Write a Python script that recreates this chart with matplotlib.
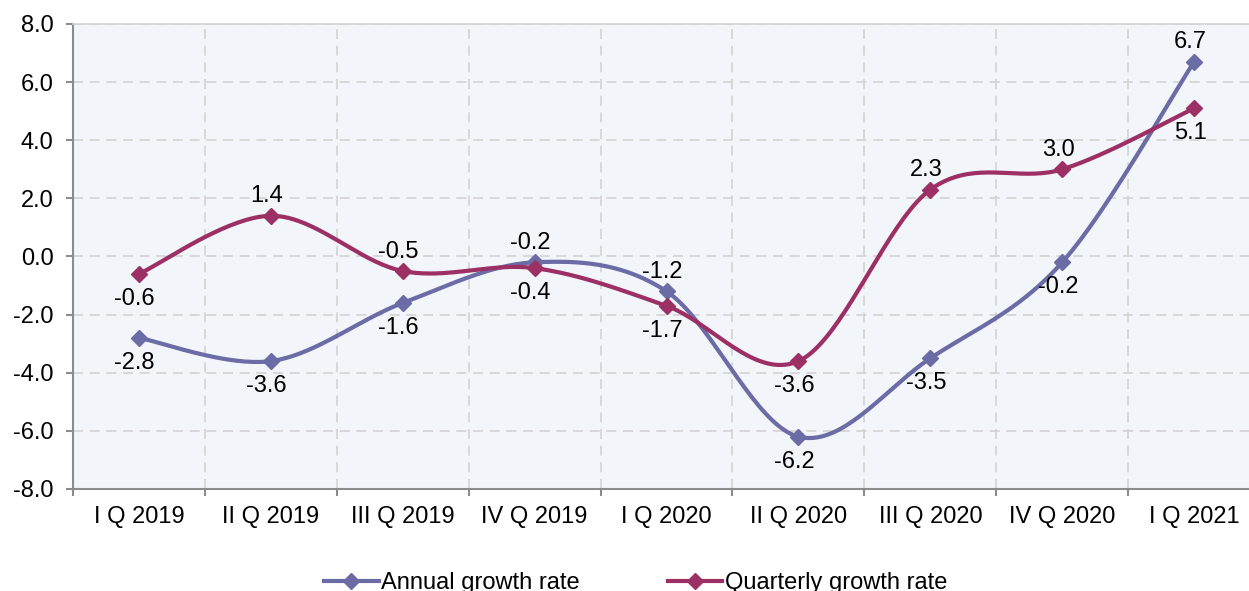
import numpy as np
import matplotlib.pyplot as plt
from matplotlib import font_manager
from matplotlib.font_manager import FontProperties
from matplotlib.lines import Line2D

# categorias e valores
quarters = ['I Q 2019', 'II Q 2019', 'III Q 2019', 'IV Q 2019', 'I Q 2020',
            'II Q 2020', 'III Q 2020', 'IV Q 2020', 'I Q 2021']
annual = [-2.8, -3.6, -1.6, -0.2, -1.2, -6.2, -3.5, -0.2, 6.7]
quarterly = [-0.6, 1.4, -0.5, -0.4, -1.7, -3.6, 2.3, 3.0, 5.1]

# posicao dos rotulos: 1 acima, -1 abaixo
annual_pos = [-1, -1, -1, 1, 1, -1, -1, -1, 1]
quarterly_pos = [-1, 1, 1, -1, -1, -1, 1, 1, -1]

c_annual = '#6B6BA5'
c_quarterly = '#9C2F64'

# procurando os arquivos das fontes
regular = None
narrow = None
for f in font_manager.fontManager.ttflist:
    base = f.fname.split('/')[-1].lower()
    if 'liberation' not in base or 'bold' in base or 'italic' in base:
        continue
    if 'narrow' in base:
        narrow = f.fname
    elif base.startswith('liberationsans-regular'):
        regular = f.fname


def fp(size, path):
    if path:
        return FontProperties(fname=path, size=size)
    return FontProperties(family='Liberation Sans', size=size)


def smooth(x, y, n=40):
    # curva suave estilo Excel (bezier com pontos de controle catmull-rom)
    x = np.asarray(x, float)
    y = np.asarray(y, float)
    px = np.concatenate([[x[0]], x, [x[-1]]])
    py = np.concatenate([[y[0]], y, [y[-1]]])
    xs, ys = [], []
    t = np.linspace(0, 1, n)
    for i in range(1, len(px) - 2):
        p0 = np.array([px[i], py[i]])
        p3 = np.array([px[i + 1], py[i + 1]])
        p1 = p0 + (np.array([px[i + 1], py[i + 1]]) - np.array([px[i - 1], py[i - 1]])) / 6
        p2 = p3 - (np.array([px[i + 2], py[i + 2]]) - np.array([px[i], py[i]])) / 6
        b = ((1 - t) ** 3)[:, None] * p0 + (3 * (1 - t) ** 2 * t)[:, None] * p1 \
            + (3 * (1 - t) * t ** 2)[:, None] * p2 + (t ** 3)[:, None] * p3
        xs.extend(b[:, 0])
        ys.extend(b[:, 1])
    return xs, ys


fig = plt.figure(figsize=(12.49, 5.91), dpi=100)
ax = fig.add_axes([0.0584, 0.1726, 0.9505, 0.7868])
ax.set_facecolor('#F2F5FA')

x = np.arange(len(quarters))
for vals, col, pos in [(annual, c_annual, annual_pos), (quarterly, c_quarterly, quarterly_pos)]:
    sx, sy = smooth(x, vals)
    ax.plot(sx, sy, color=col, lw=3, solid_capstyle='round', zorder=3)
    ax.plot(x, vals, ls='none', marker='D', ms=8, color=col, zorder=4)
    for xi, v, p in zip(x, vals, pos):
        dy = 14 if p > 0 else -18
        ax.annotate(f'{v:.1f}', (xi, v), xytext=(-3, dy), textcoords='offset points',
                    ha='center', va='center', fontproperties=fp(17, regular),
                    color='black', zorder=5)

ax.set_xlim(-0.5, len(quarters) - 0.5)
ax.set_ylim(-8, 8)
yt = np.arange(-8, 8.1, 2)
ax.set_yticks(yt)
ax.set_yticklabels([f'{v:.1f}' for v in yt], fontproperties=fp(17, regular))
ax.set_xticks(x)
ax.set_xticklabels(quarters, fontproperties=fp(17, regular))
ax.set_xticks(np.arange(-0.5, len(quarters), 1), minor=True)
ax.tick_params(axis='x', which='major', length=0, pad=12)
ax.tick_params(axis='x', which='minor', length=5, color='#8C8C8C', width=1.5)
ax.tick_params(axis='y', length=5, color='#8C8C8C', width=1.5, pad=9)

ax.grid(True, axis='y', which='major', ls=(0, (6, 4)), color='#D3D3D3', lw=1.2)
ax.grid(True, axis='x', which='minor', ls=(0, (6, 4)), color='#D3D3D3', lw=1.2)
ax.set_axisbelow(True)
for s in ['left', 'bottom']:
    ax.spines[s].set_color('#8C8C8C')
    ax.spines[s].set_linewidth(1.5)
for s in ['top', 'right']:
    ax.spines[s].set_color('#D3D3D3')
    ax.spines[s].set_linewidth(1.2)

handles = [Line2D([], [], color=c_annual, lw=3, marker='D', ms=8),
           Line2D([], [], color=c_quarterly, lw=3, marker='D', ms=8)]
leg_size = 21 if narrow else 17
fig.legend(handles, ['Annual growth rate', 'Quarterly growth rate'], loc='center',
           bbox_to_anchor=(0.509, 0.013), ncol=2, frameon=False, prop=fp(leg_size, narrow),
           handlelength=2.3, handletextpad=0.1, columnspacing=3.75)

fig.savefig('out.png', dpi=100)
